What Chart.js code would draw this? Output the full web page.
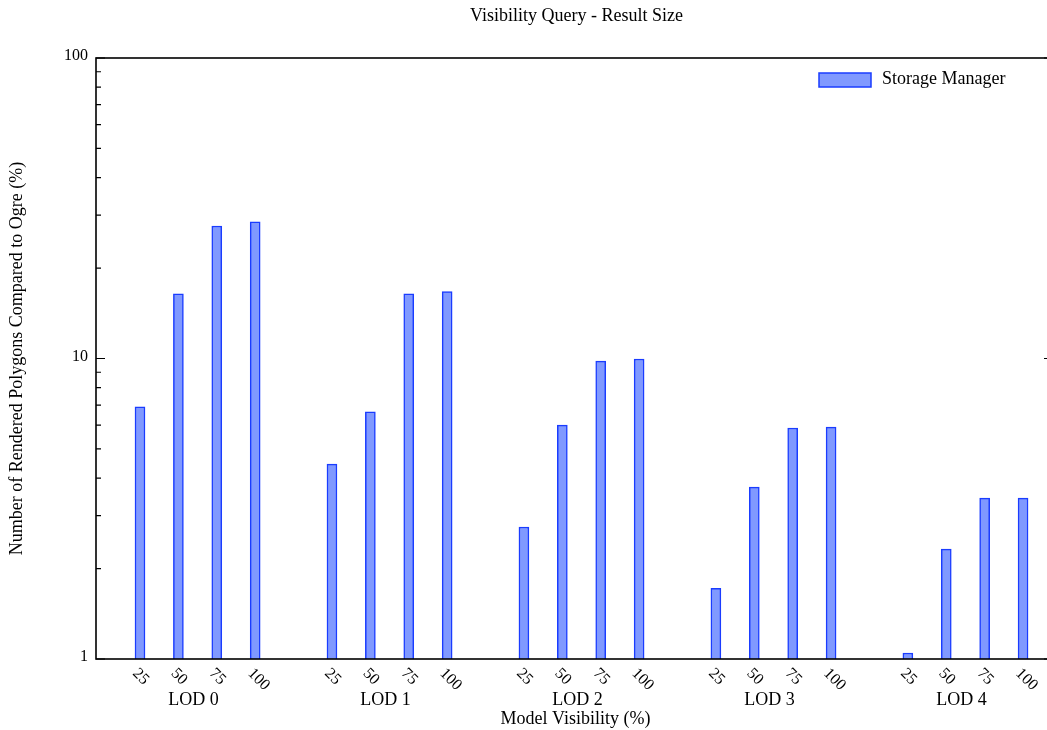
<!DOCTYPE html>
<html>
<head>
<meta charset="utf-8">
<script src="https://cdn.jsdelivr.net/npm/chart.js@4.4.1/dist/chart.umd.min.js"></script>
<style>
  html, body { margin: 0; padding: 0; overflow: hidden; background: #fff; }
  #wrap { width: 1065px; height: 730px; }
</style>
</head>
<body>
<div id="wrap"><canvas id="vis-chart" width="1065" height="730"></canvas></div>
<script>
// ====== Data
const groupLabels = ["LOD 0", "LOD 1", "LOD 2", "LOD 3", "LOD 4"];
const visibilityLabels = ["25", "50", "75", "100"];
// % of rendered polygons compared to Ogre, LOD 0 .. LOD 4, each 25/50/75/100
const storageManager = [
  6.9, 16.4, 27.6, 28.5,
  4.45, 6.64, 16.4, 16.7,
  2.75, 6.0, 9.8, 9.96,
  1.72, 3.73, 5.87, 5.91,
  1.047, 2.32, 3.43, 3.43,
];
const yMajorTicks = [1, 10, 100];
const yMinorSteps = [2, 3, 4, 5, 6, 7, 8, 9];

const FONT = "'Liberation Serif', 'Times New Roman', serif";
const FILL = "#8099ff";
const EDGE = "#1a3cff";

// one slot per bar, plus one empty slot between groups
const slotsPerGroup = visibilityLabels.length + 1;
const points = storageManager.map((v, k) => {
  const g = Math.floor(k / visibilityLabels.length);
  const i = k % visibilityLabels.length;
  return { x: g * slotsPerGroup + i, y: v };
});

// ====== Frame, ticks, texts, legend
const decorPlugin = {
  id: "decor",
  afterDraw: (chart) => {
    const { ctx, chartArea, scales } = chart;
    const { left, right, top, bottom } = chartArea;
    ctx.save();

    // frame
    ctx.strokeStyle = "#000";
    ctx.lineWidth = 1.6;
    ctx.strokeRect(left, top, right - left, bottom - top);

    // y ticks, inward on both sides
    const tick = (y, len) => {
      ctx.beginPath();
      ctx.moveTo(left, y); ctx.lineTo(left + len, y);
      ctx.moveTo(right, y); ctx.lineTo(right - len, y);
      ctx.stroke();
    };
    ctx.lineWidth = 1.2;
    yMajorTicks.forEach((d, di) => {
      tick(scales.y.getPixelForValue(d), 9);
      if (di < yMajorTicks.length - 1) {
        yMinorSteps.forEach(s => tick(scales.y.getPixelForValue(d * s), 5));
      }
    });

    ctx.fillStyle = "#000";
    ctx.font = `16px ${FONT}`;
    ctx.textAlign = "right";
    ctx.textBaseline = "middle";
    yMajorTicks.forEach(d => {
      ctx.fillText(String(d), left - 8, scales.y.getPixelForValue(d) - 2);
    });

    // y title
    ctx.save();
    ctx.translate(17, (top + bottom) / 2);
    ctx.rotate(-Math.PI / 2);
    ctx.textAlign = "center";
    ctx.font = `18px ${FONT}`;
    ctx.fillText("Number of Rendered Polygons Compared to Ogre (%)", 0, 0);
    ctx.restore();

    // title
    ctx.textAlign = "center";
    ctx.font = `18px ${FONT}`;
    ctx.fillText("Visibility Query - Result Size", (left + right) / 2 + 2, 16);

    // rotated visibility ticks
    ctx.font = `16px ${FONT}`;
    points.forEach((p, k) => {
      const x = scales.x.getPixelForValue(p.x);
      ctx.save();
      ctx.translate(x - 5, bottom + 12);
      ctx.rotate(Math.PI / 4);
      ctx.textAlign = "left";
      ctx.fillText(visibilityLabels[k % visibilityLabels.length], 0, 0);
      ctx.restore();
    });

    // group labels
    ctx.textAlign = "center";
    ctx.font = `18px ${FONT}`;
    groupLabels.forEach((lab, g) => {
      const x0 = scales.x.getPixelForValue(g * slotsPerGroup);
      const x1 = scales.x.getPixelForValue(g * slotsPerGroup + visibilityLabels.length - 1);
      ctx.fillText(lab, (x0 + x1) / 2 - 4, bottom + 41);
    });

    // x title
    ctx.fillText("Model Visibility (%)", (left + right) / 2 + 1, bottom + 60);

    // legend
    ctx.fillStyle = FILL;
    ctx.strokeStyle = EDGE;
    ctx.lineWidth = 1.5;
    ctx.fillRect(819, 73, 52, 14);
    ctx.strokeRect(819, 73, 52, 14);
    ctx.fillStyle = "#000";
    ctx.textAlign = "left";
    ctx.font = `18px ${FONT}`;
    ctx.fillText(chart.data.datasets[0].label, 882, 79);

    ctx.restore();
  },
};

const ctx = document.getElementById("vis-chart").getContext("2d");
new Chart(ctx, {
  type: "bar",
  data: {
    datasets: [{
      label: "Storage Manager",
      data: points,
      backgroundColor: FILL,
      borderColor: EDGE,
      borderWidth: 1.5,
      borderSkipped: "start",
      barThickness: 10,
    }],
  },
  options: {
    responsive: false,
    animation: false,
    layout: { padding: { left: 96, top: 58, right: 12, bottom: 71 } },
    plugins: {
      legend: { display: false },
      title: { display: false },
      tooltip: { enabled: false },
    },
    scales: {
      x: { type: "linear", display: false, offset: false, min: -1.146, max: 23.78 },
      y: { type: "logarithmic", display: false, min: 1, max: 100 },
    },
  },
  plugins: [decorPlugin],
});
</script>
</body>
</html>
